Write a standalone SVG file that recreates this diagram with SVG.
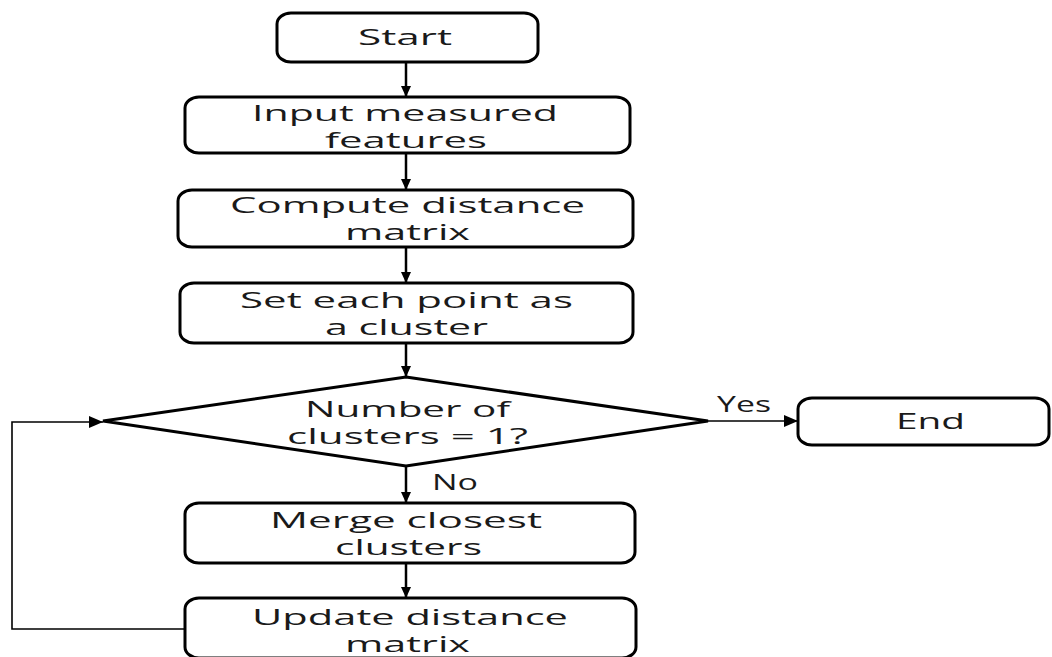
<svg xmlns="http://www.w3.org/2000/svg" width="1052" height="657" viewBox="0 0 1052 657">
<style>
.box{fill:#fff;stroke:#000;stroke-width:3}
.t{font-family:"Open Sans","Liberation Sans",sans-serif;font-size:21px;fill:#1a1a1a}
.c{fill:none;stroke:#000;stroke-width:2.5}
.thin{fill:none;stroke:#000;stroke-width:1.6}
</style>
<defs>
<marker id="ah" viewBox="0 0 10 10" refX="10" refY="5" markerWidth="11" markerHeight="10" markerUnits="userSpaceOnUse" orient="auto" preserveAspectRatio="none">
<path d="M0,0 L10,5 L0,10 z" fill="#000"/>
</marker>
<marker id="ah2" viewBox="0 0 10 10" refX="10" refY="5" markerWidth="14" markerHeight="12" markerUnits="userSpaceOnUse" orient="auto" preserveAspectRatio="none">
<path d="M0,0 L10,5 L0,10 z" fill="#000"/>
</marker>
</defs>
<rect width="1052" height="657" fill="#fff"/>
<g id="connectors">
<path class="c" d="M406,62 V97" marker-end="url(#ah)"/>
<path class="c" d="M406,153 V190" marker-end="url(#ah)"/>
<path class="c" d="M406,247 V283" marker-end="url(#ah)"/>
<path class="c" d="M406,343 V377" marker-end="url(#ah)"/>
<path class="c" d="M406,466 V503" marker-end="url(#ah)"/>
<path class="c" d="M406,563 V598" marker-end="url(#ah)"/>
<path class="thin" d="M708,421 H798" marker-end="url(#ah2)"/>
<path class="thin" d="M185,629 H12 V422 H103" marker-end="url(#ah2)"/>
<text class="t" x="717" y="412" textLength="54" lengthAdjust="spacingAndGlyphs">Yes</text>
<text class="t" x="432" y="490" textLength="46" lengthAdjust="spacingAndGlyphs">No</text>
</g>
<g id="start">
<rect class="box" x="277" y="13" width="261" height="49" rx="14" ry="11"/>
<text class="t" x="358" y="45" textLength="94" lengthAdjust="spacingAndGlyphs">Start</text>
</g>
<g id="input">
<rect class="box" x="185" y="97" width="445" height="56" rx="14" ry="11"/>
<text class="t" x="252" y="121" textLength="306" lengthAdjust="spacingAndGlyphs">Input measured</text>
<text class="t" x="325" y="148" textLength="162" lengthAdjust="spacingAndGlyphs">features</text>
</g>
<g id="compute">
<rect class="box" x="178" y="190" width="455" height="57" rx="14" ry="11"/>
<text class="t" x="230" y="213" textLength="355" lengthAdjust="spacingAndGlyphs">Compute distance</text>
<text class="t" x="345" y="240" textLength="125" lengthAdjust="spacingAndGlyphs">matrix</text>
</g>
<g id="set">
<rect class="box" x="180" y="283" width="453" height="60" rx="14" ry="11"/>
<text class="t" x="240" y="308" textLength="333" lengthAdjust="spacingAndGlyphs">Set each point as</text>
<text class="t" x="325" y="335" textLength="163" lengthAdjust="spacingAndGlyphs">a cluster</text>
</g>
<g id="decision">
<path class="box" d="M406,377 L708,421 L406,466 L103,421 z"/>
<text class="t" x="305" y="417" textLength="205" lengthAdjust="spacingAndGlyphs">Number of</text>
<text class="t" x="287" y="444" textLength="241" lengthAdjust="spacingAndGlyphs">clusters = 1?</text>
</g>
<g id="end">
<rect class="box" x="798" y="398" width="251" height="47" rx="14" ry="11"/>
<text class="t" x="896" y="429" textLength="69" lengthAdjust="spacingAndGlyphs">End</text>
</g>
<g id="merge">
<rect class="box" x="185" y="503" width="450" height="60" rx="14" ry="11"/>
<text class="t" x="270" y="528" textLength="272" lengthAdjust="spacingAndGlyphs">Merge closest</text>
<text class="t" x="335" y="555" textLength="147" lengthAdjust="spacingAndGlyphs">clusters</text>
</g>
<g id="update">
<rect class="box" x="185" y="598" width="451" height="60" rx="14" ry="11"/>
<text class="t" x="252" y="625" textLength="316" lengthAdjust="spacingAndGlyphs">Update distance</text>
<text class="t" x="345" y="652" textLength="125" lengthAdjust="spacingAndGlyphs">matrix</text>
</g>
</svg>
